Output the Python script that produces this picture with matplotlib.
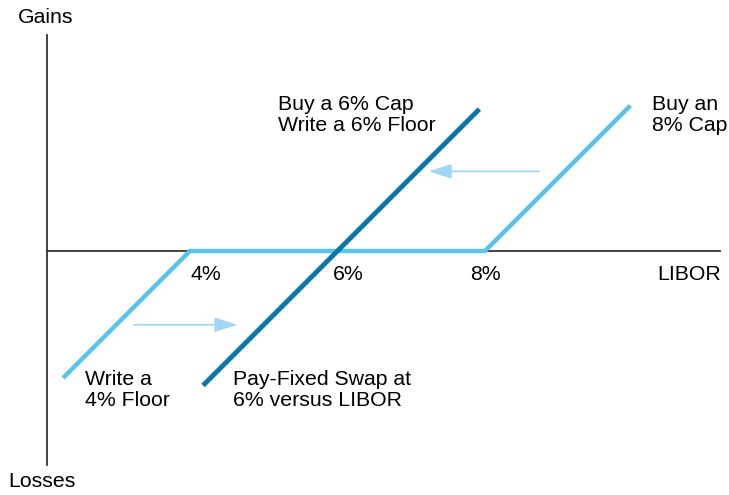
import numpy as np
import matplotlib.pyplot as plt

plt.rcParams['font.family'] = ['Liberation Sans', 'DejaVu Sans']

# payoff lines (x = LIBOR %, y = gain/loss)
floor_cap_x = [2.3, 4, 8, 9.95]
floor_cap_y = [-1.7, 0, 0, 1.95]
swap_x = [4.2, 7.9]
swap_y = [-1.8, 1.9]
tick_pos = [4, 6, 8]
tick_labels = ['4%', '6%', '8%']
tick_shift = [0.22, 0.15, 0.0]

light = '#5bc2ee'
dark = '#0a77a8'
arrow_col = '#9fd6f5'

fig = plt.figure(figsize=(7.29, 4.95), dpi=100)
ax = fig.add_axes([0, 0, 1, 1])
ax.set_xlim(1.424, 11.309)
ax.set_ylim(-3.308, 3.403)
ax.axis('off')

# axes
ax.plot([2.06, 2.06], [-2.9, 2.93], color='#333333', lw=1.3)
ax.plot([2.06, 11.19], [0, 0], color='#333333', lw=1.3)

ax.plot(floor_cap_x, floor_cap_y, color=light, lw=3.2, solid_joinstyle='miter')
ax.plot(swap_x, swap_y, color=dark, lw=3.5)

# arrows
ax.annotate('', xy=(7.2, 1.08), xytext=(8.77, 1.08),
            arrowprops=dict(arrowstyle='-|>,head_length=1.4,head_width=0.45',
                            color=arrow_col, lw=1.2))
ax.annotate('', xy=(4.68, -1.0), xytext=(3.2, -1.0),
            arrowprops=dict(arrowstyle='-|>,head_length=1.4,head_width=0.45',
                            color=arrow_col, lw=1.2))

fs = 15.3
for p, lab, s in zip(tick_pos, tick_labels, tick_shift):
    ax.text(p + s, -0.32, lab, fontsize=fs, ha='center', va='center')
ax.text(11.2, -0.32, 'LIBOR', fontsize=fs, ha='right', va='center')
ax.text(1.66, 3.17, 'Gains', fontsize=fs, ha='left', va='center')
ax.text(1.53, -3.12, 'Losses', fontsize=fs, ha='left', va='center')

ax.text(5.2, 1.84, 'Buy a 6% Cap\nWrite a 6% Floor', fontsize=fs,
        ha='left', va='center', linespacing=1.15)
ax.text(10.26, 1.84, 'Buy an\n8% Cap', fontsize=fs,
        ha='left', va='center', linespacing=1.15)
ax.text(2.57, -1.88, 'Write a\n4% Floor', fontsize=fs,
        ha='left', va='center', linespacing=1.15)
ax.text(4.58, -1.88, 'Pay-Fixed Swap at\n6% versus LIBOR', fontsize=fs,
        ha='left', va='center', linespacing=1.15)

plt.savefig('out.png', dpi=100)
